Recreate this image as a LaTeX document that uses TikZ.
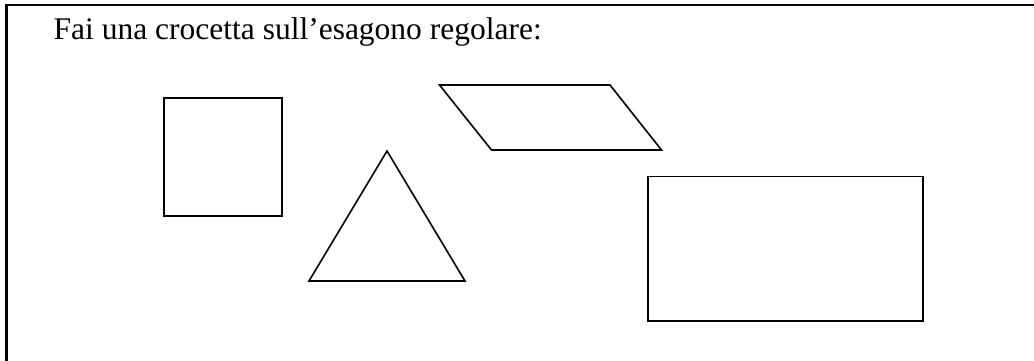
\documentclass[tikz,border=0pt]{standalone}
\usepackage{fontspec}
\setmainfont{Liberation Serif}
\usepackage{tikz}
\usetikzlibrary{positioning}

\begin{document}
\begin{tikzpicture}[x=1pt, y=-1pt, fig/.style = {draw, line width=1.6pt}, frame/.style = {draw, line width=2.2pt}]
\useasboundingbox (0,0) rectangle (1034,360);

% cornice (only top and left edge inside the page)
\coordinate (fbl) at (6.5,362);
\coordinate (ftl) at (6.5,5);
\coordinate (ftr) at (1036,5);
\draw[frame] (fbl) -- (ftl) -- (ftr);

\node[anchor=base west, inner sep=0pt, font=\fontsize{31.5}{36}\selectfont] (title) at (53.5,39.5) {Fai una crocetta sull’esagono regolare:};

% quadrato
\draw[fig] (164,98) rectangle (282,216);
% triangolo
\draw[fig] (387,151) -- (465,281) -- (309,281) -- cycle;
% parallelogramma
\draw[fig] (439.5,85) -- (610,85) -- (661.5,150) -- (491.5,150) -- cycle;
% rettangolo
\draw[fig] (648,176.5) rectangle (923,321);
\end{tikzpicture}
\end{document}
